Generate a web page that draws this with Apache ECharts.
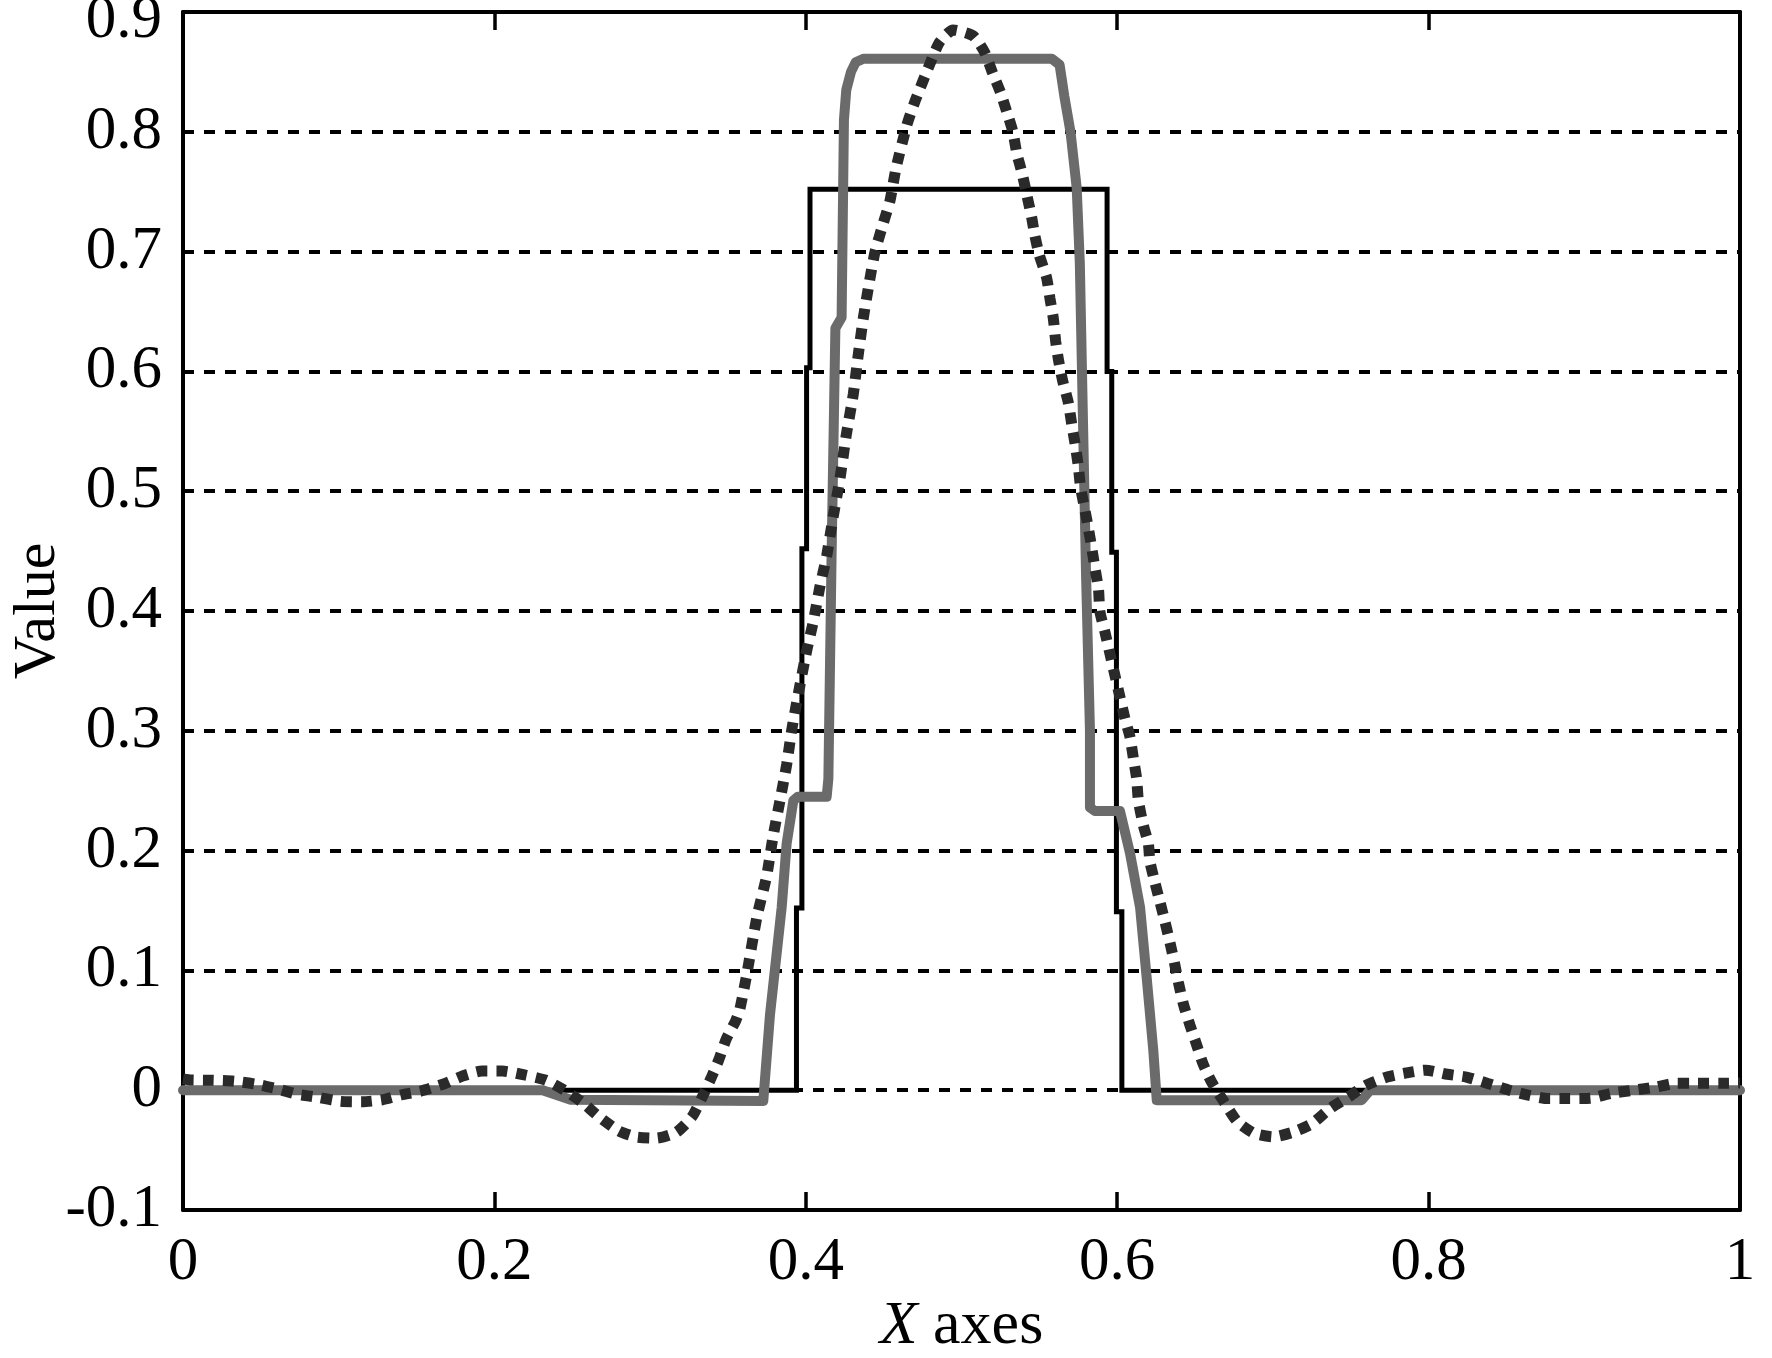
<!DOCTYPE html>
<html>
<head>
<meta charset="utf-8">
<script src="https://cdn.jsdelivr.net/npm/echarts@6/dist/echarts.min.js"></script>
<style>
  html, body { margin: 0; padding: 0; background: #fff; }
  #chart { width: 1772px; height: 1358px; }
</style>
</head>
<body>
<div id="chart"></div>
<script>
// ---- tick labels ----
var xTicks = [0, 0.2, 0.4, 0.6, 0.8, 1];
var xTickLabels = ['0', '0.2', '0.4', '0.6', '0.8', '1'];
var yTicks = [-0.1, 0, 0.1, 0.2, 0.3, 0.4, 0.5, 0.6, 0.7, 0.8, 0.9];
var yTickLabels = ['-0.1', '0', '0.1', '0.2', '0.3', '0.4', '0.5', '0.6', '0.7', '0.8', '0.9'];

// ---- black thin staircase pulse ----
var blackX = [0, 0.394, 0.394, 0.3975, 0.3975, 0.4005, 0.4005, 0.4027, 0.4027,
              0.5935, 0.5935, 0.5965, 0.5965, 0.5995, 0.5995, 0.603, 0.603, 1];
var blackY = [0, 0, 0.152, 0.152, 0.452, 0.452, 0.603, 0.603, 0.752,
              0.752, 0.60, 0.60, 0.449, 0.449, 0.149, 0.149, 0, 0];

// ---- gray thick approximation ----
var grayX = [0, 0.231, 0.249, 0.3727, 0.377, 0.3845, 0.3877, 0.392, 0.395, 0.4134,
             0.4145, 0.4166, 0.419, 0.423, 0.4245, 0.426, 0.429, 0.432, 0.437,
             0.558, 0.563, 0.566, 0.570, 0.574, 0.576, 0.578, 0.580, 0.5825, 0.5825,
             0.5857, 0.6018, 0.6082, 0.6147, 0.619, 0.6232, 0.6254,
             0.757, 0.7624, 1];
var grayY = [0, 0, -0.008, -0.009, 0.063, 0.1525, 0.206, 0.2417, 0.245, 0.245,
             0.26, 0.45, 0.636, 0.645, 0.81, 0.835, 0.85, 0.858, 0.861,
             0.861, 0.856, 0.83, 0.80, 0.753, 0.69, 0.56, 0.43, 0.30, 0.236,
             0.233, 0.233, 0.198, 0.1525, 0.093, 0.033, -0.0083,
             -0.0083, 0, 0];

// ---- dotted oscillating curve ----
var dotX = [0, 0.0055, 0.019, 0.033, 0.047, 0.061, 0.073, 0.087, 0.101, 0.115, 0.128,
            0.140, 0.153, 0.167, 0.180, 0.192, 0.205, 0.220, 0.233, 0.245, 0.256,
            0.267, 0.280, 0.291, 0.304, 0.317, 0.327, 0.333, 0.339, 0.344, 0.349,
            0.355, 0.3577, 0.362, 0.3685, 0.3749, 0.379, 0.3834, 0.3877, 0.391, 0.3952,
            0.4006, 0.4048, 0.409, 0.4134, 0.4175, 0.422, 0.426, 0.4305, 0.4335, 0.437,
            0.441, 0.4445, 0.4498, 0.454, 0.458, 0.465, 0.470, 0.4798, 0.486, 0.4946,
            0.5076, 0.515, 0.520, 0.525, 0.529, 0.533, 0.5355, 0.539, 0.542, 0.545,
            0.547, 0.550, 0.5547, 0.5568, 0.559, 0.5605, 0.5625, 0.565, 0.5686, 0.5708,
            0.573, 0.575, 0.5765, 0.579, 0.5815, 0.5836, 0.5857, 0.588, 0.5889, 0.5922,
            0.5954, 0.5986, 0.6018, 0.605, 0.6082, 0.6104, 0.6125, 0.6136, 0.6168, 0.620,
            0.621, 0.6243, 0.6275, 0.6307, 0.634, 0.637, 0.6393, 0.6425, 0.6468, 0.651,
            0.6553, 0.6607, 0.6686, 0.677, 0.688, 0.700, 0.713, 0.725, 0.737, 0.7486,
            0.7596, 0.7733, 0.7857, 0.798, 0.812, 0.8243, 0.838, 0.8518, 0.864, 0.8767,
            0.890, 0.904, 0.9168, 0.9317, 0.9455, 0.959, 0.973, 0.987, 1];
var dotY = [0.0095, 0.0085, 0.0083, 0.0075, 0.005, 0.001, -0.0033, -0.006, -0.0093, -0.0097, -0.008,
            -0.004, -0.0007, 0.005, 0.012, 0.016, 0.016, 0.0125, 0.0083, 0, -0.0097,
            -0.022, -0.034, -0.039, -0.040, -0.035, -0.022, -0.007, 0.0097, 0.025, 0.043,
            0.058, 0.068, 0.096, 0.144, 0.179, 0.212, 0.2417, 0.2717, 0.301, 0.331,
            0.367, 0.391, 0.420, 0.446, 0.478, 0.511, 0.547, 0.581, 0.612, 0.645,
            0.676, 0.70, 0.724, 0.742, 0.770, 0.806, 0.825, 0.857, 0.875, 0.885,
            0.880, 0.866, 0.849, 0.833, 0.817, 0.80, 0.782, 0.765, 0.747, 0.729,
            0.714, 0.697, 0.678, 0.661, 0.644, 0.625, 0.608, 0.592, 0.574, 0.556,
            0.539, 0.521, 0.503, 0.486, 0.469, 0.453, 0.436, 0.418, 0.3994, 0.382,
            0.364, 0.346, 0.328, 0.310, 0.295, 0.277, 0.260, 0.2417, 0.221, 0.206,
            0.191, 0.173, 0.157, 0.1405, 0.1226, 0.1048, 0.09, 0.072, 0.054, 0.038,
            0.0214, 0.0066, -0.0097, -0.026, -0.036, -0.039, -0.035, -0.028, -0.015, -0.0056,
            0.004, 0.011, 0.0144, 0.0167, 0.0133, 0.011, 0.0056, 0, -0.0042, -0.007,
            -0.007, -0.0067, -0.0028, 0, 0.0025, 0.0058, 0.0058, 0.0058, 0.006];

function zip(xs, ys) {
  var out = [];
  for (var i = 0; i < xs.length; i++) out.push([xs[i], ys[i]]);
  return out;
}
function lookup(ticks, labels, v) {
  for (var i = 0; i < ticks.length; i++) {
    if (Math.abs(ticks[i] - v) < 1e-6) return labels[i];
  }
  return '';
}

var FONT = "'Liberation Serif', 'Times New Roman', serif";
var chart = echarts.init(document.getElementById('chart'), null, { renderer: 'canvas' });

var axisLineStyle = { color: '#000', width: 4 };
var tickStyle = { show: true, inside: true, length: 18, lineStyle: { color: '#000', width: 3.5 } };

chart.setOption({
  backgroundColor: '#ffffff',
  animation: false,
  grid: { left: 183, right: 32, top: 12, bottom: 148, containLabel: false, outerBoundsMode: 'none' },
  xAxis: [
    {
      type: 'value', position: 'bottom', min: 0, max: 1, interval: 0.2,
      axisLine: { show: true, onZero: false, lineStyle: axisLineStyle },
      axisTick: tickStyle,
      splitLine: { show: false },
      axisLabel: {
        show: true, margin: 22, color: '#000', fontFamily: FONT, fontSize: 61,
        formatter: function (v) { return lookup(xTicks, xTickLabels, v); }
      },
      name: '{i|X} axes',
      nameLocation: 'middle',
      nameGap: 86,
      nameMoveOverlap: false,
      nameTextStyle: {
        color: '#000', fontFamily: FONT, fontSize: 62,
        rich: { i: { fontStyle: 'italic', fontFamily: FONT, fontSize: 62, color: '#000' } }
      }
    },
    {
      type: 'value', position: 'top', min: 0, max: 1, interval: 0.2,
      axisLine: { show: true, onZero: false, lineStyle: axisLineStyle },
      axisTick: tickStyle,
      splitLine: { show: false },
      axisLabel: { show: false }
    }
  ],
  yAxis: [
    {
      type: 'value', position: 'left', min: -0.1, max: 0.9, interval: 0.1,
      axisLine: { show: true, onZero: false, lineStyle: axisLineStyle },
      axisTick: { show: false },
      splitLine: { show: true, lineStyle: { color: '#000', width: 4, type: [11, 10] } },
      axisLabel: {
        show: true, margin: 21, color: '#000', fontFamily: FONT, fontSize: 61,
        formatter: function (v) {
          var s = lookup(yTicks, yTickLabels, v);
          if (Math.abs(v - 0.9) < 1e-6) return '{n|' + s + '}';
          return s;
        },
        rich: {
          n: { fontFamily: FONT, fontSize: 61, color: '#000', lineHeight: 78, verticalAlign: 'bottom' }
        }
      },
      name: 'Value',
      nameLocation: 'middle',
      nameGap: 115,
      nameMoveOverlap: false,
      nameTextStyle: { color: '#000', fontFamily: FONT, fontSize: 60 }
    },
    {
      type: 'value', position: 'right', min: -0.1, max: 0.9, interval: 0.1,
      axisLine: { show: true, onZero: false, lineStyle: axisLineStyle },
      axisTick: { show: false },
      splitLine: { show: false },
      axisLabel: { show: false }
    }
  ],
  series: [
    {
      name: 'black', type: 'line', xAxisIndex: 0, yAxisIndex: 0, z: 3,
      data: zip(blackX, blackY), showSymbol: false, symbol: 'none',
      lineStyle: { color: '#000', width: 5, join: 'miter' }
    },
    {
      name: 'gray', type: 'line', xAxisIndex: 0, yAxisIndex: 0, z: 4,
      data: zip(grayX, grayY), showSymbol: false, symbol: 'none',
      lineStyle: { color: '#6b6b6b', width: 10, join: 'round', cap: 'round' }
    },
    {
      name: 'dotted', type: 'line', xAxisIndex: 0, yAxisIndex: 0, z: 5,
      data: zip(dotX, dotY), showSymbol: false, symbol: 'none', smooth: 0.2,
      lineStyle: { color: '#2a2a2a', width: 11, type: [11, 9], cap: 'butt' }
    }
  ]
});
</script>
</body>
</html>
